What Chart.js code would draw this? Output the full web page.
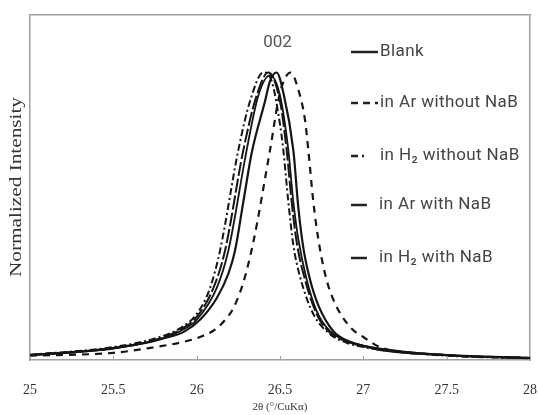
<!DOCTYPE html>
<html>
<head>
<meta charset="utf-8">
<script src="https://cdn.jsdelivr.net/npm/chart.js@4"></script>
<style>
  html, body { margin: 0; padding: 0; background: #fff; }
  #wrap { width: 538px; height: 415px; position: relative; }
</style>
</head>
<body>
<div id="wrap"><canvas id="xrd"></canvas></div>
<script>
// tick labels on the 2theta axis
const xTicks = [25, 25.5, 26, 26.5, 27, 27.5, 28]

const seriesNames = ['Blank', 'in Ar without NaB', 'in H\u2082 without NaB', 'in Ar with NaB', 'in H\u2082 with NaB']

// Blank (solid)
const blankX = [25, 25.42, 25.54, 25.72, 25.8, 25.92, 26.02, 26.12, 26.19, 26.23, 26.28, 26.33, 26.41, 26.44, 26.48, 26.52, 26.58, 26.61, 26.64, 26.68, 26.73, 26.82, 26.92, 27.03, 27.1, 27.5, 28]
const blankY = [0.017, 0.035, 0.045, 0.063, 0.075, 0.097, 0.14, 0.215, 0.30, 0.38, 0.55, 0.72, 0.90, 0.97, 1.0, 0.93, 0.73, 0.53, 0.39, 0.28, 0.19, 0.10, 0.063, 0.045, 0.035, 0.017, 0.007]

// in Ar without NaB (dashed)
const arX = [25, 25.5, 25.72, 25.92, 26.02, 26.12, 26.18, 26.22, 26.28, 26.34, 26.44, 26.5, 26.565, 26.61, 26.65, 26.67, 26.70, 26.73, 26.77, 26.82, 26.92, 27.0, 27.1, 27.5, 28]
const arY = [0.015, 0.025, 0.042, 0.063, 0.08, 0.11, 0.146, 0.18, 0.27, 0.41, 0.73, 0.93, 1.0, 0.94, 0.835, 0.73, 0.55, 0.42, 0.30, 0.21, 0.115, 0.08, 0.045, 0.017, 0.007]

// in H2 without NaB (dash-dot)
const h2X = [25, 25.5, 25.75, 25.9, 26.0, 26.08, 26.14, 26.25, 26.32, 26.40, 26.45, 26.5, 26.52, 26.55, 26.58, 26.62, 26.7, 26.8, 26.9, 27.0, 27.5, 28]
const h2Y = [0.018, 0.045, 0.075, 0.11, 0.16, 0.25, 0.38, 0.73, 0.90, 1.0, 0.97, 0.82, 0.73, 0.55, 0.40, 0.29, 0.16, 0.09, 0.06, 0.045, 0.015, 0.006]

// in Ar with NaB (long dash)
const arNaX = [25, 25.5, 25.75, 25.9, 26.0, 26.1, 26.17, 26.28, 26.36, 26.43, 26.5, 26.54, 26.57, 26.6, 26.65, 26.72, 26.8, 26.9, 27.0, 27.5, 28]
const arNaY = [0.017, 0.042, 0.07, 0.105, 0.15, 0.25, 0.38, 0.73, 0.92, 1.0, 0.9, 0.73, 0.55, 0.41, 0.28, 0.16, 0.095, 0.065, 0.048, 0.017, 0.007]

// in H2 with NaB (solid)
const h2NaX = [25, 25.5, 25.75, 25.9, 26.0, 26.12, 26.19, 26.30, 26.37, 26.44, 26.5, 26.55, 26.58, 26.61, 26.66, 26.72, 26.8, 26.9, 27.0, 27.5, 28]
const h2NaY = [0.017, 0.04, 0.068, 0.10, 0.14, 0.25, 0.38, 0.73, 0.92, 0.99, 0.92, 0.73, 0.55, 0.42, 0.28, 0.17, 0.1, 0.068, 0.05, 0.017, 0.007]

const peakLabel = '002'
const yTitle = 'Normalized Intensity'

function pts(xs, ys) {
  return xs.map((x, i) => ({ x: x, y: ys[i] }))
}

function line(label, xs, ys, dash, width) {
  return {
    label: label,
    data: pts(xs, ys),
    borderColor: '#151515',
    borderWidth: width,
    borderDash: dash,
    pointRadius: 0,
    fill: false,
    cubicInterpolationMode: 'monotone'
  }
}

// legend drawn next to the peak, rows spaced like the original
const legendRows = [
  { y: 52, len: 27, gap: 2 },
  { y: 103, len: 27, gap: 2 },
  { y: 156, len: 16, gap: 13 },
  { y: 205, len: 16, gap: 12 },
  { y: 258, len: 16, gap: 12 }
]

const sideLegend = {
  id: 'sideLegend',
  afterDraw(chart) {
    const ctx = chart.ctx
    const xs = chart.scales.x
    ctx.save()
    // small inward ticks on the bottom axis
    ctx.strokeStyle = '#a0a0a0'
    ctx.lineWidth = 1
    xTicks.forEach(v => {
      const px = Math.round(xs.getPixelForValue(v)) + 0.5
      ctx.beginPath()
      ctx.moveTo(px, chart.chartArea.bottom)
      ctx.lineTo(px, chart.chartArea.bottom - 4)
      ctx.stroke()
    })
    chart.data.datasets.forEach((ds, i) => {
      const row = legendRows[i]
      const x0 = 351
      ctx.strokeStyle = '#222'
      ctx.lineWidth = 2.5
      ctx.setLineDash(i === 2 ? [7, 4, 2, 4] : (i === 1 ? [7, 5] : []))
      ctx.beginPath()
      ctx.moveTo(x0, row.y)
      ctx.lineTo(x0 + row.len, row.y)
      ctx.stroke()
      ctx.setLineDash([])
      ctx.fillStyle = '#444'
      ctx.font = '17px Roboto'
      ctx.letterSpacing = '0.4px'
      ctx.textBaseline = 'middle'
      ctx.fillText(ds.label, x0 + row.len + row.gap, row.y)
    })
    ctx.letterSpacing = '0px'
    // peak index
    ctx.font = '17px Roboto'
    ctx.fillStyle = '#555'
    ctx.textAlign = 'center'
    ctx.fillText(peakLabel, xs.getPixelForValue(26.485), 43)
    // y title, stretched along its length like the original
    ctx.font = '16px "Liberation Serif"'
    ctx.fillStyle = '#333'
    const w = ctx.measureText(yTitle).width
    ctx.translate(17, 187)
    ctx.rotate(-Math.PI / 2)
    ctx.scale(180 / w, 1)
    ctx.fillText(yTitle, 0, 0)
    ctx.restore()
  }
}

const ctx = document.getElementById('xrd').getContext('2d')
new Chart(ctx, {
  type: 'line',
  data: {
    datasets: [
      line(seriesNames[0], blankX, blankY, [], 2.2),
      line(seriesNames[1], arX, arY, [7, 6], 2.2),
      line(seriesNames[2], h2X, h2Y, [7, 3, 2, 3], 2),
      line(seriesNames[3], arNaX, arNaY, [14, 3], 2),
      line(seriesNames[4], h2NaX, h2NaY, [], 1.8)
    ]
  },
  options: {
    responsive: true,
    maintainAspectRatio: false,
    animation: false,
    layout: { padding: { left: 0, right: 8, top: 15, bottom: 0 } },
    plugins: {
      legend: { display: false },
      tooltip: { enabled: false }
    },
    scales: {
      x: {
        type: 'linear',
        min: 25,
        max: 28,
        afterBuildTicks: s => { s.ticks = xTicks.map(v => ({ value: v })) },
        afterFit: s => { s.height = 55; s.paddingLeft = 0; s.paddingRight = 0 },
        border: { color: '#a0a0a0', width: 1.5 },
        grid: { drawOnChartArea: false, tickLength: 0 },
        ticks: {
          padding: 22,
          color: '#333',
          font: { family: 'Liberation Serif', size: 14 },
          maxRotation: 0,
          callback: v => String(v)
        },
        title: {
          display: true,
          text: '2\u03b8 (\u00b0/CuK\u03b1)',
          color: '#333',
          font: { family: 'Liberation Serif', size: 11 },
          padding: { top: 0, bottom: 1 }
        }
      },
      y: {
        min: 0,
        max: 1.2,
        afterFit: s => { s.width = 30 },
        border: { color: '#a0a0a0', width: 1.5 },
        grid: { display: false },
        ticks: { display: false }
      },
      x2: {
        type: 'linear',
        position: 'top',
        min: 25,
        max: 28,
        afterFit: s => { s.height = 0; s.paddingLeft = 0; s.paddingRight = 0 },
        border: { color: '#a0a0a0', width: 1.5 },
        grid: { display: false },
        ticks: { display: false }
      },
      y2: {
        position: 'right',
        min: 0,
        max: 1.2,
        afterFit: s => { s.width = 0 },
        border: { color: '#a0a0a0', width: 1.5 },
        grid: { display: false },
        ticks: { display: false }
      }
    }
  },
  plugins: [sideLegend]
})
</script>
</body>
</html>
